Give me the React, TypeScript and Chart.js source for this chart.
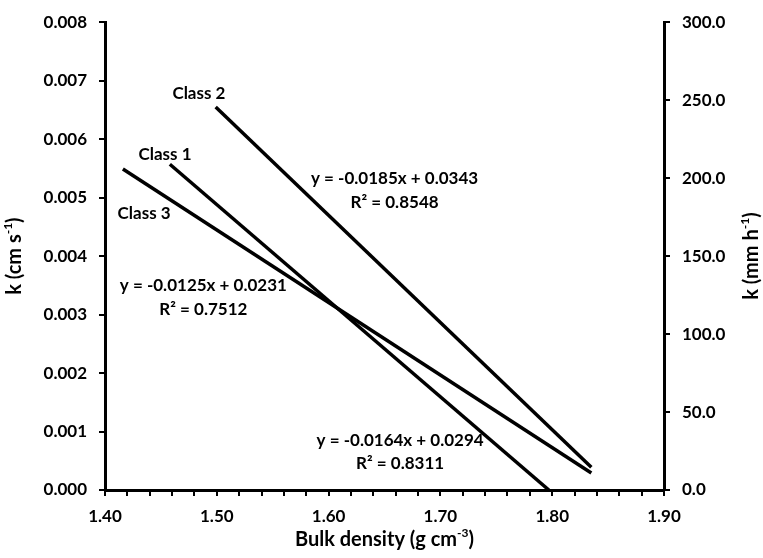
import React, { useEffect, useRef } from "react";
import { Chart, registerables } from "chart.js";

Chart.register(...registerables);

// Regression lines (start / end points)
const class1X = [1.458, 1.797];
const class1Y = [0.00557, 0.0];
const class2X = [1.499, 1.835];
const class2Y = [0.00655, 0.00039];
const class3X = [1.416, 1.835];
const class3Y = [0.00549, 0.00029];

const seriesNames = ["Class 1", "Class 2", "Class 3"];
const equations = [
  "y = -0.0164x + 0.0294",
  "y = -0.0185x + 0.0343",
  "y = -0.0125x + 0.0231",
];
const r2Texts = ["R² = 0.8311", "R² = 0.8548", "R² = 0.7512"];

// Label anchors in data coordinates
const nameLabelX = [1.4537, 1.484, 1.435];
const nameLabelY = [0.00574, 0.00678, 0.00473];
const eqLabelX = [1.664, 1.659, 1.488];
const eqLabelY = [0.000844, 0.00532, 0.00349];
const r2LabelY = [0.000456, 0.00491, 0.00309];

const xMin = 1.4, xMax = 1.9, xStep = 0.02;
const yMin = 0, yMax = 0.008, yStep = 0.001;
const y2Min = 0, y2Max = 300, y2Step = 50;

const FONT = "Lato, 'Open Sans', sans-serif";

function pts(xs: number[], ys: number[]) {
  return xs.map((x, i) => ({ x, y: ys[i] }));
}

function drawRich(ctx: CanvasRenderingContext2D, parts: { t: string; sup?: boolean }[], size: number, weight: string) {
  const supSize = Math.round(size * 0.6);
  let total = 0;
  const widths = parts.map((p) => {
    ctx.font = `${weight} ${p.sup ? supSize : size}px ${FONT}`;
    const w = ctx.measureText(p.t).width;
    total += w;
    return w;
  });
  let x = -total / 2;
  parts.forEach((p, i) => {
    ctx.font = `${weight} ${p.sup ? supSize : size}px ${FONT}`;
    ctx.textAlign = "left";
    ctx.textBaseline = "middle";
    ctx.fillText(p.t, x, p.sup ? -size * 0.35 : 0);
    x += widths[i];
  });
}

const annotPlugin = {
  id: "annot",
  afterDatasetsDraw(chart: any) {
    const ctx: CanvasRenderingContext2D = chart.ctx;
    const xs = chart.scales.x;
    const ys = chart.scales.y;
    const ca = chart.chartArea;
    ctx.save();
    ctx.fillStyle = "#000";
    ctx.textAlign = "center";
    ctx.textBaseline = "middle";
    ctx.font = `bold 17px ${FONT}`;
    for (let i = 0; i < 3; i++) {
      ctx.fillText(seriesNames[i], xs.getPixelForValue(nameLabelX[i]), ys.getPixelForValue(nameLabelY[i]));
      ctx.fillText(equations[i], xs.getPixelForValue(eqLabelX[i]), ys.getPixelForValue(eqLabelY[i]));
      ctx.fillText(r2Texts[i], xs.getPixelForValue(eqLabelX[i]), ys.getPixelForValue(r2LabelY[i]));
    }
    const midY = (ca.top + ca.bottom) / 2;
    // left title
    ctx.save();
    ctx.translate(15, midY);
    ctx.rotate(-Math.PI / 2);
    drawRich(ctx, [{ t: "k (cm s" }, { t: "-1", sup: true }, { t: ")" }], 20, "bold");
    ctx.restore();
    // right title
    ctx.save();
    ctx.translate(chart.width - 11, midY);
    ctx.rotate(-Math.PI / 2);
    drawRich(ctx, [{ t: "k (mm h" }, { t: "-1", sup: true }, { t: ")" }], 20, "bold");
    ctx.restore();
    // bottom title
    ctx.save();
    ctx.translate((ca.left + ca.right) / 2, chart.height - 18);
    drawRich(ctx, [{ t: "Bulk density (g cm" }, { t: "-3", sup: true }, { t: ")" }], 20, "bold");
    ctx.restore();
    ctx.restore();
  },
};

export default function App() {
  const ref = useRef<HTMLCanvasElement | null>(null);
  useEffect(() => {
    document.body.style.margin = "0";
    if (!ref.current) return;
    const lineStyle = { showLine: true, borderColor: "#000", backgroundColor: "#000", borderWidth: 3.5, pointRadius: 0, pointHoverRadius: 0, fill: false };
    const tickGrid = { display: true, drawOnChartArea: false, drawTicks: true, tickLength: 6, color: "#000", lineWidth: 2 };
    const tickFont = { family: FONT, size: 17, weight: "bold" as const };
    const chart = new Chart(ref.current, {
      type: "scatter",
      data: {
        datasets: [
          { label: seriesNames[0], data: pts(class1X, class1Y), ...lineStyle },
          { label: seriesNames[1], data: pts(class2X, class2Y), ...lineStyle },
          { label: seriesNames[2], data: pts(class3X, class3Y), ...lineStyle },
        ],
      },
      options: {
        animation: false,
        responsive: false,
        layout: { padding: { top: 16, left: 0, right: 0, bottom: 0 } },
        plugins: { legend: { display: false }, tooltip: { enabled: false } },
        scales: {
          x: {
            type: "linear",
            min: xMin,
            max: xMax,
            ticks: {
              stepSize: xStep,
              autoSkip: false,
              maxRotation: 0,
              padding: 10,
              color: "#000",
              font: tickFont,
              callback: (v: any) => {
                const n = Number(v);
                const k = Math.round(n * 100);
                return k % 10 === 0 ? n.toFixed(2) : "";
              },
            },
            grid: tickGrid,
            border: { display: true, color: "#000", width: 3 },
            afterFit: (s: any) => { s.height = 68; },
          },
          y: {
            type: "linear",
            position: "left",
            min: yMin,
            max: yMax,
            ticks: { stepSize: yStep, padding: 12, color: "#000", font: tickFont, callback: (v: any) => Number(v).toFixed(3) },
            grid: tickGrid,
            border: { display: true, color: "#000", width: 3 },
            afterFit: (s: any) => { s.width = 105; },
          },
          y1: {
            type: "linear",
            position: "right",
            min: y2Min,
            max: y2Max,
            ticks: { stepSize: y2Step, padding: 12, color: "#000", font: tickFont, callback: (v: any) => Number(v).toFixed(1) },
            grid: tickGrid,
            border: { display: true, color: "#000", width: 3 },
            afterFit: (s: any) => { s.width = 99; },
          },
        },
      },
      plugins: [annotPlugin],
    } as any);
    return () => chart.destroy();
  }, []);
  return (
    <div style={{ width: 763, height: 558, background: "#fff" }}>
      <canvas ref={ref} width={763} height={558} style={{ display: "block" }} />
    </div>
  );
}
